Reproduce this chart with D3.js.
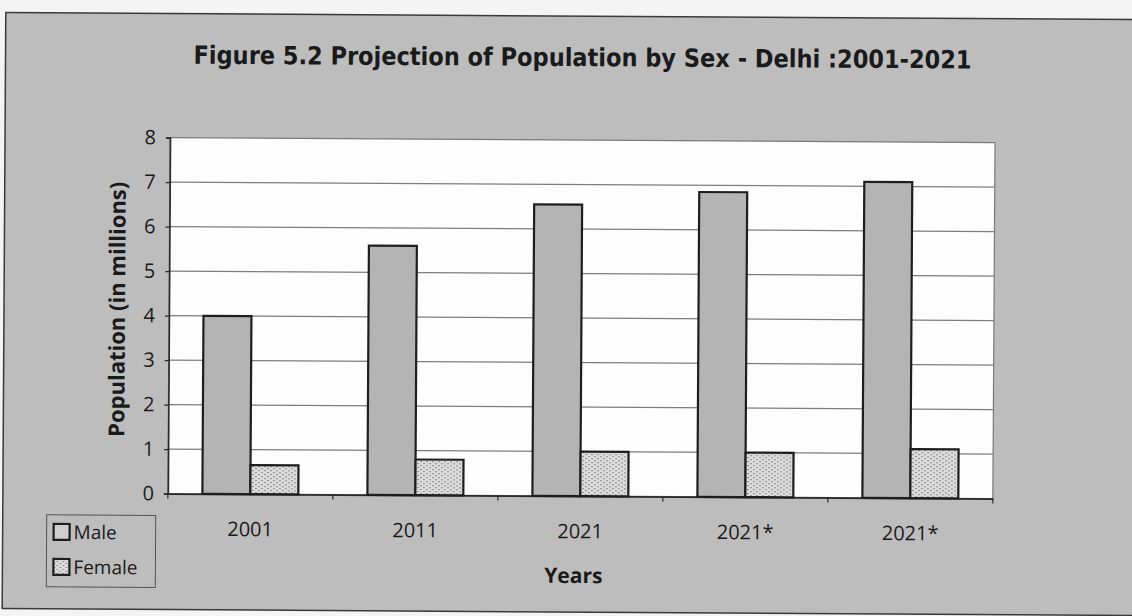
<!DOCTYPE html>
<html>
<head>
<meta charset="utf-8">
<script src="https://cdn.jsdelivr.net/npm/d3@7"></script>
<style>
  html, body { margin: 0; padding: 0; background: #f4f4f4; }
  svg { display: block; }
</style>
</head>
<body>
<svg id="chart" width="1132" height="616"></svg>
<script>
// Population projection for Delhi, by sex (millions)
const years = ["2001", "2011", "2021", "2021*", "2021*"];
const male = [4.0, 5.6, 6.55, 6.85, 7.1];
const female = [0.65, 0.8, 1.0, 1.0, 1.1];
const seriesNames = ["Male", "Female"];
const yTicks = [0, 1, 2, 3, 4, 5, 6, 7, 8];

const W = 1132, H = 616;
const plot = { left: 169, right: 994, top: 140, bottom: 496 };

const svg = d3.select("#chart");
const defs = svg.append("defs");

// fine brick-dot texture for the Female series
const pat = defs.append("pattern")
  .attr("id", "femaleFill")
  .attr("patternUnits", "userSpaceOnUse")
  .attr("width", 6).attr("height", 4);
pat.append("rect").attr("width", 6).attr("height", 4).attr("fill", "#dcdcdc");
pat.append("rect").attr("x", 0).attr("y", 0).attr("width", 2).attr("height", 1).attr("fill", "#8a8a8a");
pat.append("rect").attr("x", 3).attr("y", 2).attr("width", 2).attr("height", 1).attr("fill", "#8a8a8a");

const fills = ["#b4b4b4", "url(#femaleFill)"];
const textFont = "Open Sans, sans-serif";

// whole page is slightly tilted, as on a scanned sheet
const root = svg.append("g").attr("transform", `rotate(0.35, ${W / 2}, ${H / 2})`);

// grey chart frame
root.append("rect")
  .attr("x", 4).attr("y", 16).attr("width", W + 10).attr("height", 596)
  .attr("fill", "#bdbdbd").attr("stroke", "#3a3a3a").attr("stroke-width", 1.5);

// title
root.append("text")
  .attr("x", 581).attr("y", 66)
  .attr("text-anchor", "middle")
  .attr("font-family", "DejaVu Sans Condensed, DejaVu Sans, sans-serif")
  .attr("font-weight", "bold")
  .attr("font-size", 25)
  .attr("fill", "#1a1a1a")
  .text("Figure 5.2 Projection of Population by Sex - Delhi :2001-2021");

// scales
const x0 = d3.scaleBand().domain(d3.range(years.length))
  .range([plot.left, plot.right]).paddingInner(0).paddingOuter(0);
const x1 = d3.scaleBand().domain(d3.range(seriesNames.length))
  .range([0, x0.bandwidth()]).paddingInner(0).paddingOuter(0.72);
const y = d3.scaleLinear().domain([0, 8]).range([plot.bottom, plot.top]);

// plot area
root.append("rect")
  .attr("x", plot.left).attr("y", plot.top)
  .attr("width", plot.right - plot.left).attr("height", plot.bottom - plot.top)
  .attr("fill", "#fdfdfd").attr("stroke", "#7a7a7a").attr("stroke-width", 1.2);

// gridlines
root.append("g")
  .selectAll("line")
  .data(yTicks.filter(t => t > 0 && t < 8))
  .join("line")
  .attr("x1", plot.left).attr("x2", plot.right)
  .attr("y1", d => y(d)).attr("y2", d => y(d))
  .attr("stroke", "#7d7d7d").attr("stroke-width", 1.2);

// y axis
const yAxis = root.append("g")
  .attr("transform", `translate(${plot.left},0)`)
  .call(d3.axisLeft(y).tickValues(yTicks).tickSize(4).tickPadding(10).tickFormat(d3.format("d")));
yAxis.select(".domain").attr("stroke", "#2a2a2a").attr("stroke-width", 1.6);
yAxis.selectAll(".tick line").attr("stroke", "#2a2a2a").attr("stroke-width", 1.2);
yAxis.selectAll(".tick text")
  .attr("font-family", textFont)
  .attr("font-size", 20).attr("fill", "#1a1a1a");

// x axis with ticks at category boundaries
const xAxis = root.append("g")
  .attr("transform", `translate(0,${plot.bottom})`)
  .call(d3.axisBottom(x0).tickSize(0).tickPadding(28).tickFormat(i => years[i]));
xAxis.select(".domain").attr("stroke", "#2a2a2a").attr("stroke-width", 1.8);
xAxis.selectAll(".tick text")
  .attr("font-family", textFont)
  .attr("font-size", 20).attr("fill", "#1a1a1a");
root.append("g")
  .selectAll("line")
  .data(d3.range(years.length + 1))
  .join("line")
  .attr("x1", i => plot.left + i * x0.bandwidth())
  .attr("x2", i => plot.left + i * x0.bandwidth())
  .attr("y1", plot.bottom).attr("y2", plot.bottom + 5)
  .attr("stroke", "#2a2a2a").attr("stroke-width", 1.2);

// bars
const rows = years.map((yr, i) => ({ i, values: [male[i], female[i]] }));
root.append("g")
  .selectAll("g")
  .data(rows)
  .join("g")
  .attr("transform", d => `translate(${x0(d.i)},0)`)
  .selectAll("rect")
  .data(d => d.values.map((v, s) => ({ v, s })))
  .join("rect")
  .attr("x", d => x1(d.s))
  .attr("width", x1.bandwidth())
  .attr("y", d => y(d.v))
  .attr("height", d => y(0) - y(d.v))
  .attr("fill", d => fills[d.s])
  .attr("stroke", "#1e1e1e").attr("stroke-width", 2.2);

// axis titles
root.append("text")
  .attr("transform", `translate(125,${(plot.top + plot.bottom) / 2 - 6}) rotate(-90)`)
  .attr("text-anchor", "middle")
  .attr("font-family", textFont)
  .attr("font-weight", "bold").attr("font-size", 22)
  .attr("fill", "#1a1a1a")
  .text("Population (in millions)");

root.append("text")
  .attr("x", 575).attr("y", 583)
  .attr("text-anchor", "middle")
  .attr("font-family", textFont)
  .attr("font-weight", "bold").attr("font-size", 21)
  .attr("fill", "#1a1a1a")
  .text("Years");

// legend
const lg = root.append("g").attr("transform", "translate(48,518)");
lg.append("rect")
  .attr("width", 109).attr("height", 72)
  .attr("fill", "#bdbdbd").attr("stroke", "#555").attr("stroke-width", 1);
const items = lg.selectAll("g.item")
  .data(seriesNames)
  .join("g").attr("class", "item")
  .attr("transform", (d, i) => `translate(7,${9 + i * 35})`);
items.append("rect")
  .attr("width", 16).attr("height", 16)
  .attr("fill", (d, i) => i === 0 ? "#cfcfcf" : "url(#femaleFill)")
  .attr("stroke", "#1e1e1e").attr("stroke-width", 2.2);
items.append("text")
  .attr("x", 20).attr("y", 15)
  .attr("font-family", textFont)
  .attr("font-size", 19).attr("fill", "#1a1a1a")
  .text(d => d);
</script>
</body>
</html>
